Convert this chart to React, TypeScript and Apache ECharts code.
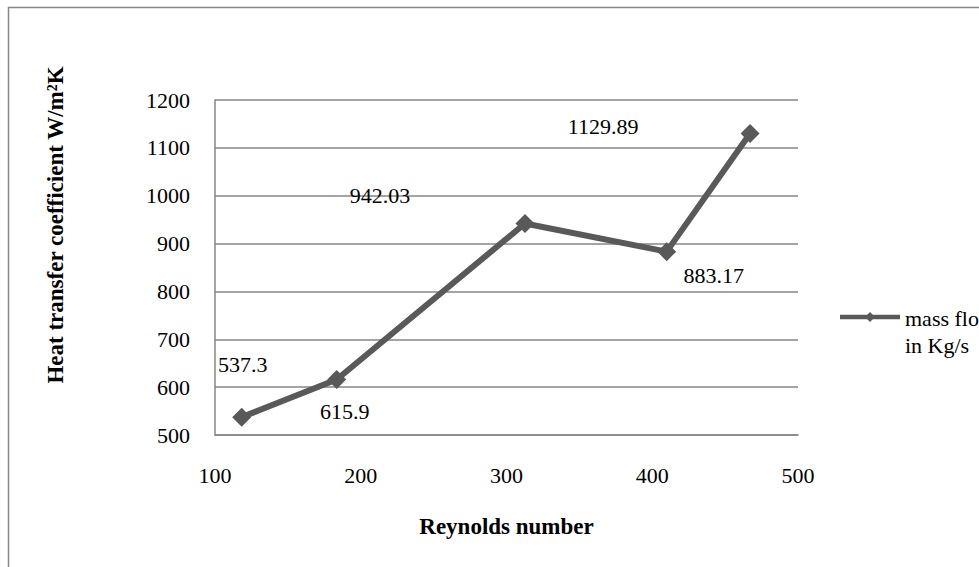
import React, { useEffect, useRef } from "react";
import * as echarts from "echarts";

const reynolds = [118.3, 183.5, 312.7, 409.9, 467.1];
const htc = [537.3, 615.9, 942.03, 883.17, 1129.89];
const labelOffsets: [number, number][] = [
  [1, -53],
  [8, 32],
  [-145, -28],
  [47, 24],
  [-147, -7],
];
const seriesName = "mass flow in Kg/s";
const legendLines = ["mass flow", "in Kg/s"];
const xTitle = "Reynolds number";
const yTitle = "Heat transfer coefficient W/m²K";

const FONT = "Liberation Serif, Times New Roman, serif";
const GRID = "#868686";
const LINE = "#595959";
const FS = 22;

export default function App() {
  const ref = useRef<HTMLDivElement>(null);
  useEffect(() => {
    if (!ref.current) return;
    const chart = echarts.init(ref.current, undefined, { renderer: "svg" });
    const data = reynolds.map((x, i) => ({
      value: [x, htc[i]],
      label: {
        show: true,
        position: "inside",
        offset: labelOffsets[i],
        formatter: String(htc[i]),
        color: "#000",
        fontSize: FS,
        fontFamily: FONT,
        fontWeight: "normal",
        align: "center",
        verticalAlign: "middle",
      },
    }));
    chart.setOption({
      animation: false,
      textStyle: { fontFamily: FONT },
      grid: { left: 215, right: 181, top: 100, bottom: 132 },
      xAxis: {
        type: "value",
        min: 100,
        max: 500,
        interval: 100,
        axisLine: { show: true, lineStyle: { color: GRID, width: 1.5 } },
        axisTick: { show: false },
        splitLine: { show: false },
        axisLabel: { color: "#000", fontSize: FS, fontFamily: FONT, margin: 29 },
        name: xTitle,
        nameLocation: "middle",
        nameGap: 80,
        nameTextStyle: { color: "#000", fontSize: 23, fontWeight: "bold", fontFamily: FONT },
      },
      yAxis: {
        type: "value",
        min: 500,
        max: 1200,
        interval: 100,
        axisLine: { show: true, lineStyle: { color: GRID, width: 1.5 } },
        axisTick: { show: false },
        splitLine: { show: true, lineStyle: { color: GRID, width: 1.5 } },
        axisLabel: {
          color: "#000",
          fontSize: FS,
          fontFamily: FONT,
          margin: 25,
          formatter: (v: number) => String(v),
        },
      },
      series: [
        {
          name: seriesName,
          type: "line",
          data,
          symbol: "diamond",
          symbolSize: 19,
          lineStyle: { color: LINE, width: 6 },
          itemStyle: { color: LINE },
          label: {
            color: "#000",
            fontSize: FS,
            fontFamily: FONT,
            align: "center",
            verticalAlign: "middle",
          },
        },
      ],
      graphic: [
        {
          type: "rect",
          shape: { x: 8.5, y: 7.5, width: 1100, height: 700 },
          style: { fill: "none", stroke: GRID, lineWidth: 1.5 },
          silent: true,
        },
        {
          type: "text",
          x: 55,
          y: 225,
          rotation: Math.PI / 2,
          style: {
            text: yTitle,
            fill: "#000",
            fontFamily: FONT,
            fontSize: 23,
            fontWeight: "bold",
            align: "center",
            verticalAlign: "middle",
          },
        },
        {
          type: "line",
          shape: { x1: 840, y1: 317, x2: 900, y2: 317 },
          style: { stroke: LINE, lineWidth: 4.5 },
        },
        {
          type: "polygon",
          shape: { points: [[870, 312], [875, 317], [870, 322], [865, 317]] },
          style: { fill: LINE },
        },
        {
          type: "text",
          x: 905,
          y: 318,
          style: {
            text: legendLines[0],
            fill: "#000",
            fontFamily: FONT,
            fontSize: FS,
            align: "left",
            verticalAlign: "middle",
          },
        },
        {
          type: "text",
          x: 905,
          y: 345,
          style: {
            text: legendLines[1],
            fill: "#000",
            fontFamily: FONT,
            fontSize: FS,
            align: "left",
            verticalAlign: "middle",
          },
        },
      ],
    });
    return () => chart.dispose();
  }, []);
  return (
    <div
      ref={ref}
      style={{ position: "absolute", left: 0, top: 0, width: 979, height: 567 }}
    />
  );
}
